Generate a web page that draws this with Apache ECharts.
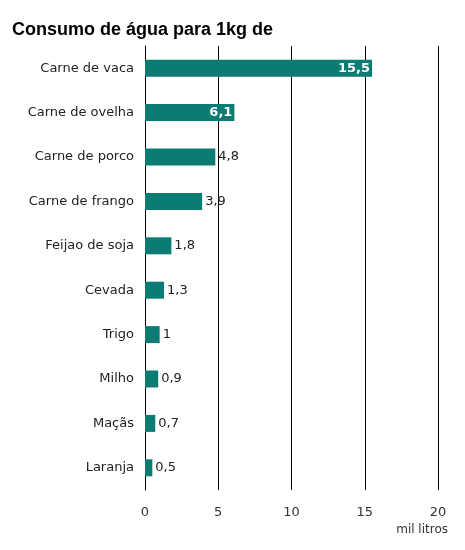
<!DOCTYPE html>
<html><head><meta charset="utf-8">
<script src="https://cdn.jsdelivr.net/npm/echarts@6/dist/echarts.min.js"></script>
<style>html,body{margin:0;background:#fff}#c{width:465px;height:550px}</style>
</head><body><div id="c"></div>
<script>
const categories = ["Carne de vaca","Carne de ovelha","Carne de porco","Carne de frango","Feijao de soja","Cevada","Trigo","Milho","Maçãs","Laranja"];
const values = [15.5,6.1,4.8,3.9,1.8,1.3,1,0.9,0.7,0.5];
const insideLabels = [true,true,false,false,false,false,false,false,false,false];
const xTicks = [0,5,10,15,20];
const fmt = v => String(v).replace('.', ',');
const F = 'DejaVu Sans, Arial';
const chart = echarts.init(document.getElementById('c'));
chart.setOption({
  animation:false,
  title:{text:'Consumo de água para 1kg de',left:7,top:16,textStyle:{fontFamily:'Arial, Liberation Sans',fontSize:18,fontWeight:'bold',color:'#000'}},
  grid:{left:145,right:27,top:46,bottom:60},
  xAxis:{type:'value',min:0,max:20,interval:5,name:'mil litros',nameLocation:'end',nameGap:0,
    nameTextStyle:{fontFamily:F,fontSize:12,color:'#333',align:'right',verticalAlign:'top',padding:[34,-10,0,0]},
    axisLine:{show:false},axisTick:{show:false},
    axisLabel:{fontFamily:F,fontSize:13,color:'#333',margin:16,formatter:v=>xTicks.includes(v)?String(v):''},
    splitLine:{show:true,lineStyle:{color:'#000',width:1}}},
  yAxis:{type:'category',data:categories,inverse:true,
    axisLine:{show:true,lineStyle:{color:'#000'}},axisTick:{show:false},
    axisLabel:{fontFamily:F,fontSize:13,color:'#222',margin:11}},
  series:[{type:'bar',barWidth:17,itemStyle:{color:'#0b7b73'},
    data:values.map((v,i)=>({value:v,label:insideLabels[i]?
      {show:true,position:'insideRight',color:'#fff',fontWeight:'bold',distance:2}:
      {show:true,position:'right',color:'#222',distance:3}})),
    label:{fontFamily:F,fontSize:13,formatter:p=>fmt(p.value)}}]
});
</script></body></html>
